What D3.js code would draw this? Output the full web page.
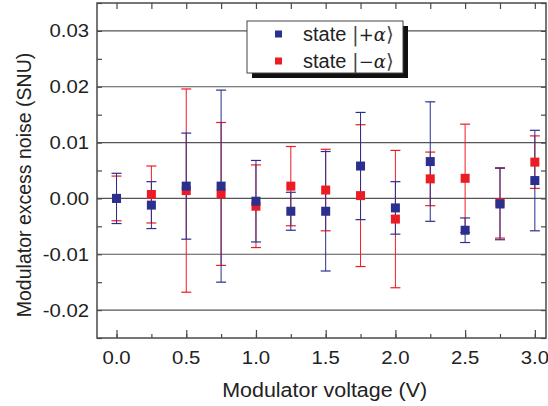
<!DOCTYPE html>
<html>
<head>
<meta charset="utf-8">
<script src="https://cdn.jsdelivr.net/npm/d3@7"></script>
<style>
  body { margin: 0; background: #fff; }
  text { font-family: "Liberation Sans", Arial, sans-serif; fill: #222; }
</style>
</head>
<body>
<svg id="chart" width="548" height="406"></svg>
<script>
// modulator voltage (V)
const voltages = [0, 0.25, 0.5, 0.75, 1.0, 1.25, 1.5, 1.75, 2.0, 2.25, 2.5, 2.75, 3.0];

// state |+alpha> : excess noise and error
const plusValues = [0.0000, -0.0012, 0.0022, 0.0022, -0.0005, -0.0023, -0.0023, 0.0058, -0.0017, 0.0066, -0.0057, -0.0010, 0.0032];
const plusErrors = [0.0045, 0.0042, 0.0095, 0.0172, 0.0073, 0.0034, 0.0107, 0.0096, 0.0047, 0.0107, 0.0022, 0.0064, 0.0090];

// state |-alpha>
const minusValues = [0.0000, 0.0007, 0.0014, 0.0008, -0.0014, 0.0022, 0.0015, 0.0005, -0.0037, 0.0035, 0.0036, -0.0008, 0.0065];
const minusErrors = [0.0040, 0.0051, 0.0182, 0.0128, 0.0074, 0.0071, 0.0073, 0.0127, 0.0123, 0.0048, 0.0097, 0.0063, 0.0047];

const xTicks = [0, 0.5, 1.0, 1.5, 2.0, 2.5, 3.0];
const yTicks = [-0.02, -0.01, 0.00, 0.01, 0.02, 0.03];

const blue = "#2b2f8e";
const red = "#ec1c24";
const frameColor = "#4a4a4a";

const svg = d3.select("#chart");
const padLeft = 97, padRight = 546, padTop = 3, padBottom = 338;
const stretch = 1.13; // the original lettering is a bit wider than Liberation Sans

const x = d3.scaleLinear().domain([-0.14, 3.08]).range([padLeft, padRight]);
const y = d3.scaleLinear().domain([-0.025, 0.035]).range([padBottom, padTop]);

// grid lines at major y ticks
svg.append("g")
  .selectAll("line")
  .data(yTicks)
  .join("line")
  .attr("x1", padLeft).attr("x2", padRight)
  .attr("y1", d => y(d)).attr("y2", d => y(d))
  .attr("stroke", "#555").attr("stroke-width", 1.2);

// axes (ticks inward)
const xMinor = d3.range(0, 3.01, 0.25);
const yMinor = d3.range(-0.025, 0.0351, 0.005);

svg.append("g")
  .attr("transform", `translate(0,${padBottom})`)
  .call(d3.axisTop(x).tickValues(xMinor).tickSize(4).tickFormat(""))
  .call(g => g.select(".domain").remove());
svg.append("g")
  .attr("transform", `translate(0,${padBottom})`)
  .call(d3.axisTop(x).tickValues(xTicks).tickSize(8).tickFormat(""))
  .call(g => g.select(".domain").remove());
svg.append("g")
  .attr("transform", `translate(0,${padTop})`)
  .call(d3.axisBottom(x).tickValues(xMinor).tickSize(6).tickFormat(""))
  .call(g => g.select(".domain").remove());
svg.append("g")
  .attr("transform", `translate(${padLeft},0)`)
  .call(d3.axisRight(y).tickValues(yMinor).tickSize(5).tickFormat(""))
  .call(g => g.select(".domain").remove());
svg.append("g")
  .attr("transform", `translate(${padRight},0)`)
  .call(d3.axisLeft(y).tickValues(yMinor).tickSize(5).tickFormat(""))
  .call(g => g.select(".domain").remove());
svg.selectAll(".tick line").attr("stroke", frameColor).attr("stroke-width", 1.2);

// tick labels
svg.append("g")
  .selectAll("text")
  .data(xTicks)
  .join("text")
  .attr("transform", d => `translate(${x(d)},364) scale(${stretch},1)`)
  .attr("text-anchor", "middle")
  .attr("font-size", 18)
  .text(d => d3.format(".1f")(d));

svg.append("g")
  .selectAll("text")
  .data(yTicks)
  .join("text")
  .attr("transform", d => `translate(89,${y(d) + 6.5}) scale(${stretch},1)`)
  .attr("text-anchor", "end")
  .attr("font-size", 18)
  .text(d => d3.format(".2f")(d).replace("\u2212", "-"));

// axis titles
svg.append("text")
  .attr("transform", `translate(${x(1.5) - 1},397) scale(1.1,1)`)
  .attr("text-anchor", "middle")
  .attr("font-size", 19.5)
  .text("Modulator voltage (V)");

svg.append("text")
  .attr("transform", `translate(31,185) rotate(-90)`)
  .attr("text-anchor", "middle")
  .attr("font-size", 19.5)
  .text("Modulator excess noise (SNU)");

// frame
svg.append("rect")
  .attr("x", padLeft).attr("y", padTop)
  .attr("width", padRight - padLeft).attr("height", padBottom - padTop)
  .attr("fill", "none").attr("stroke", frameColor).attr("stroke-width", 1.5);

// error bars and points
function drawSeries(values, errors, color) {
  const data = voltages.map((v, i) => ({ v, val: values[i], err: errors[i] }));
  const g = svg.append("g");
  const bars = g.selectAll("g.bar").data(data).join("g").attr("class", "bar");
  bars.append("line")
    .attr("x1", d => x(d.v)).attr("x2", d => x(d.v))
    .attr("y1", d => y(d.val - d.err)).attr("y2", d => y(d.val + d.err))
    .attr("stroke", color).attr("stroke-width", 1);
  bars.append("line")
    .attr("x1", d => x(d.v) - 5).attr("x2", d => x(d.v) + 5)
    .attr("y1", d => y(d.val + d.err)).attr("y2", d => y(d.val + d.err))
    .attr("stroke", color).attr("stroke-width", 1.2);
  bars.append("line")
    .attr("x1", d => x(d.v) - 5).attr("x2", d => x(d.v) + 5)
    .attr("y1", d => y(d.val - d.err)).attr("y2", d => y(d.val - d.err))
    .attr("stroke", color).attr("stroke-width", 1.2);
  return data;
}
function drawPoints(data, color) {
  svg.append("g")
    .selectAll("rect")
    .data(data)
    .join("rect")
    .attr("x", d => x(d.v) - 4.5).attr("y", d => y(d.val) - 4.5)
    .attr("width", 9).attr("height", 9)
    .attr("fill", color);
}
const minusData = drawSeries(minusValues, minusErrors, red);
const plusData = drawSeries(plusValues, plusErrors, blue);
drawPoints(minusData, red);
drawPoints(plusData, blue);

// legend
const lg = svg.append("g");
lg.append("rect").attr("x", 252).attr("y", 26).attr("width", 156).attr("height", 52).attr("fill", "#111");
lg.append("rect").attr("x", 247).attr("y", 21).attr("width", 156).attr("height", 52)
  .attr("fill", "#fff").attr("stroke", "#444").attr("stroke-width", 1);
const legendItems = [
  { color: blue, sign: "+" , yy: 34 },
  { color: red, sign: "\u2212", yy: 61 }
];
legendItems.forEach(it => {
  lg.append("rect").attr("x", 275).attr("y", it.yy - 3.5).attr("width", 7).attr("height", 7).attr("fill", it.color);
  const t = lg.append("text")
    .attr("transform", `translate(303,${it.yy + 7})`)
    .attr("font-size", 20);
  t.append("tspan").text("state ");
  t.append("tspan").attr("font-family", "DejaVu Serif, serif").attr("font-weight", 300).attr("fill", "#444").text("|");
  t.append("tspan").attr("font-family", "DejaVu Serif, serif").attr("font-size", 18).text(it.sign);
  t.append("tspan").attr("font-family", "DejaVu Serif, serif").attr("font-style", "italic").attr("font-size", 18).text("\u03b1");
  t.append("tspan").attr("font-family", "DejaVu Serif, serif").attr("fill", "#444").text("\u27e9");
});
</script>
</body>
</html>
